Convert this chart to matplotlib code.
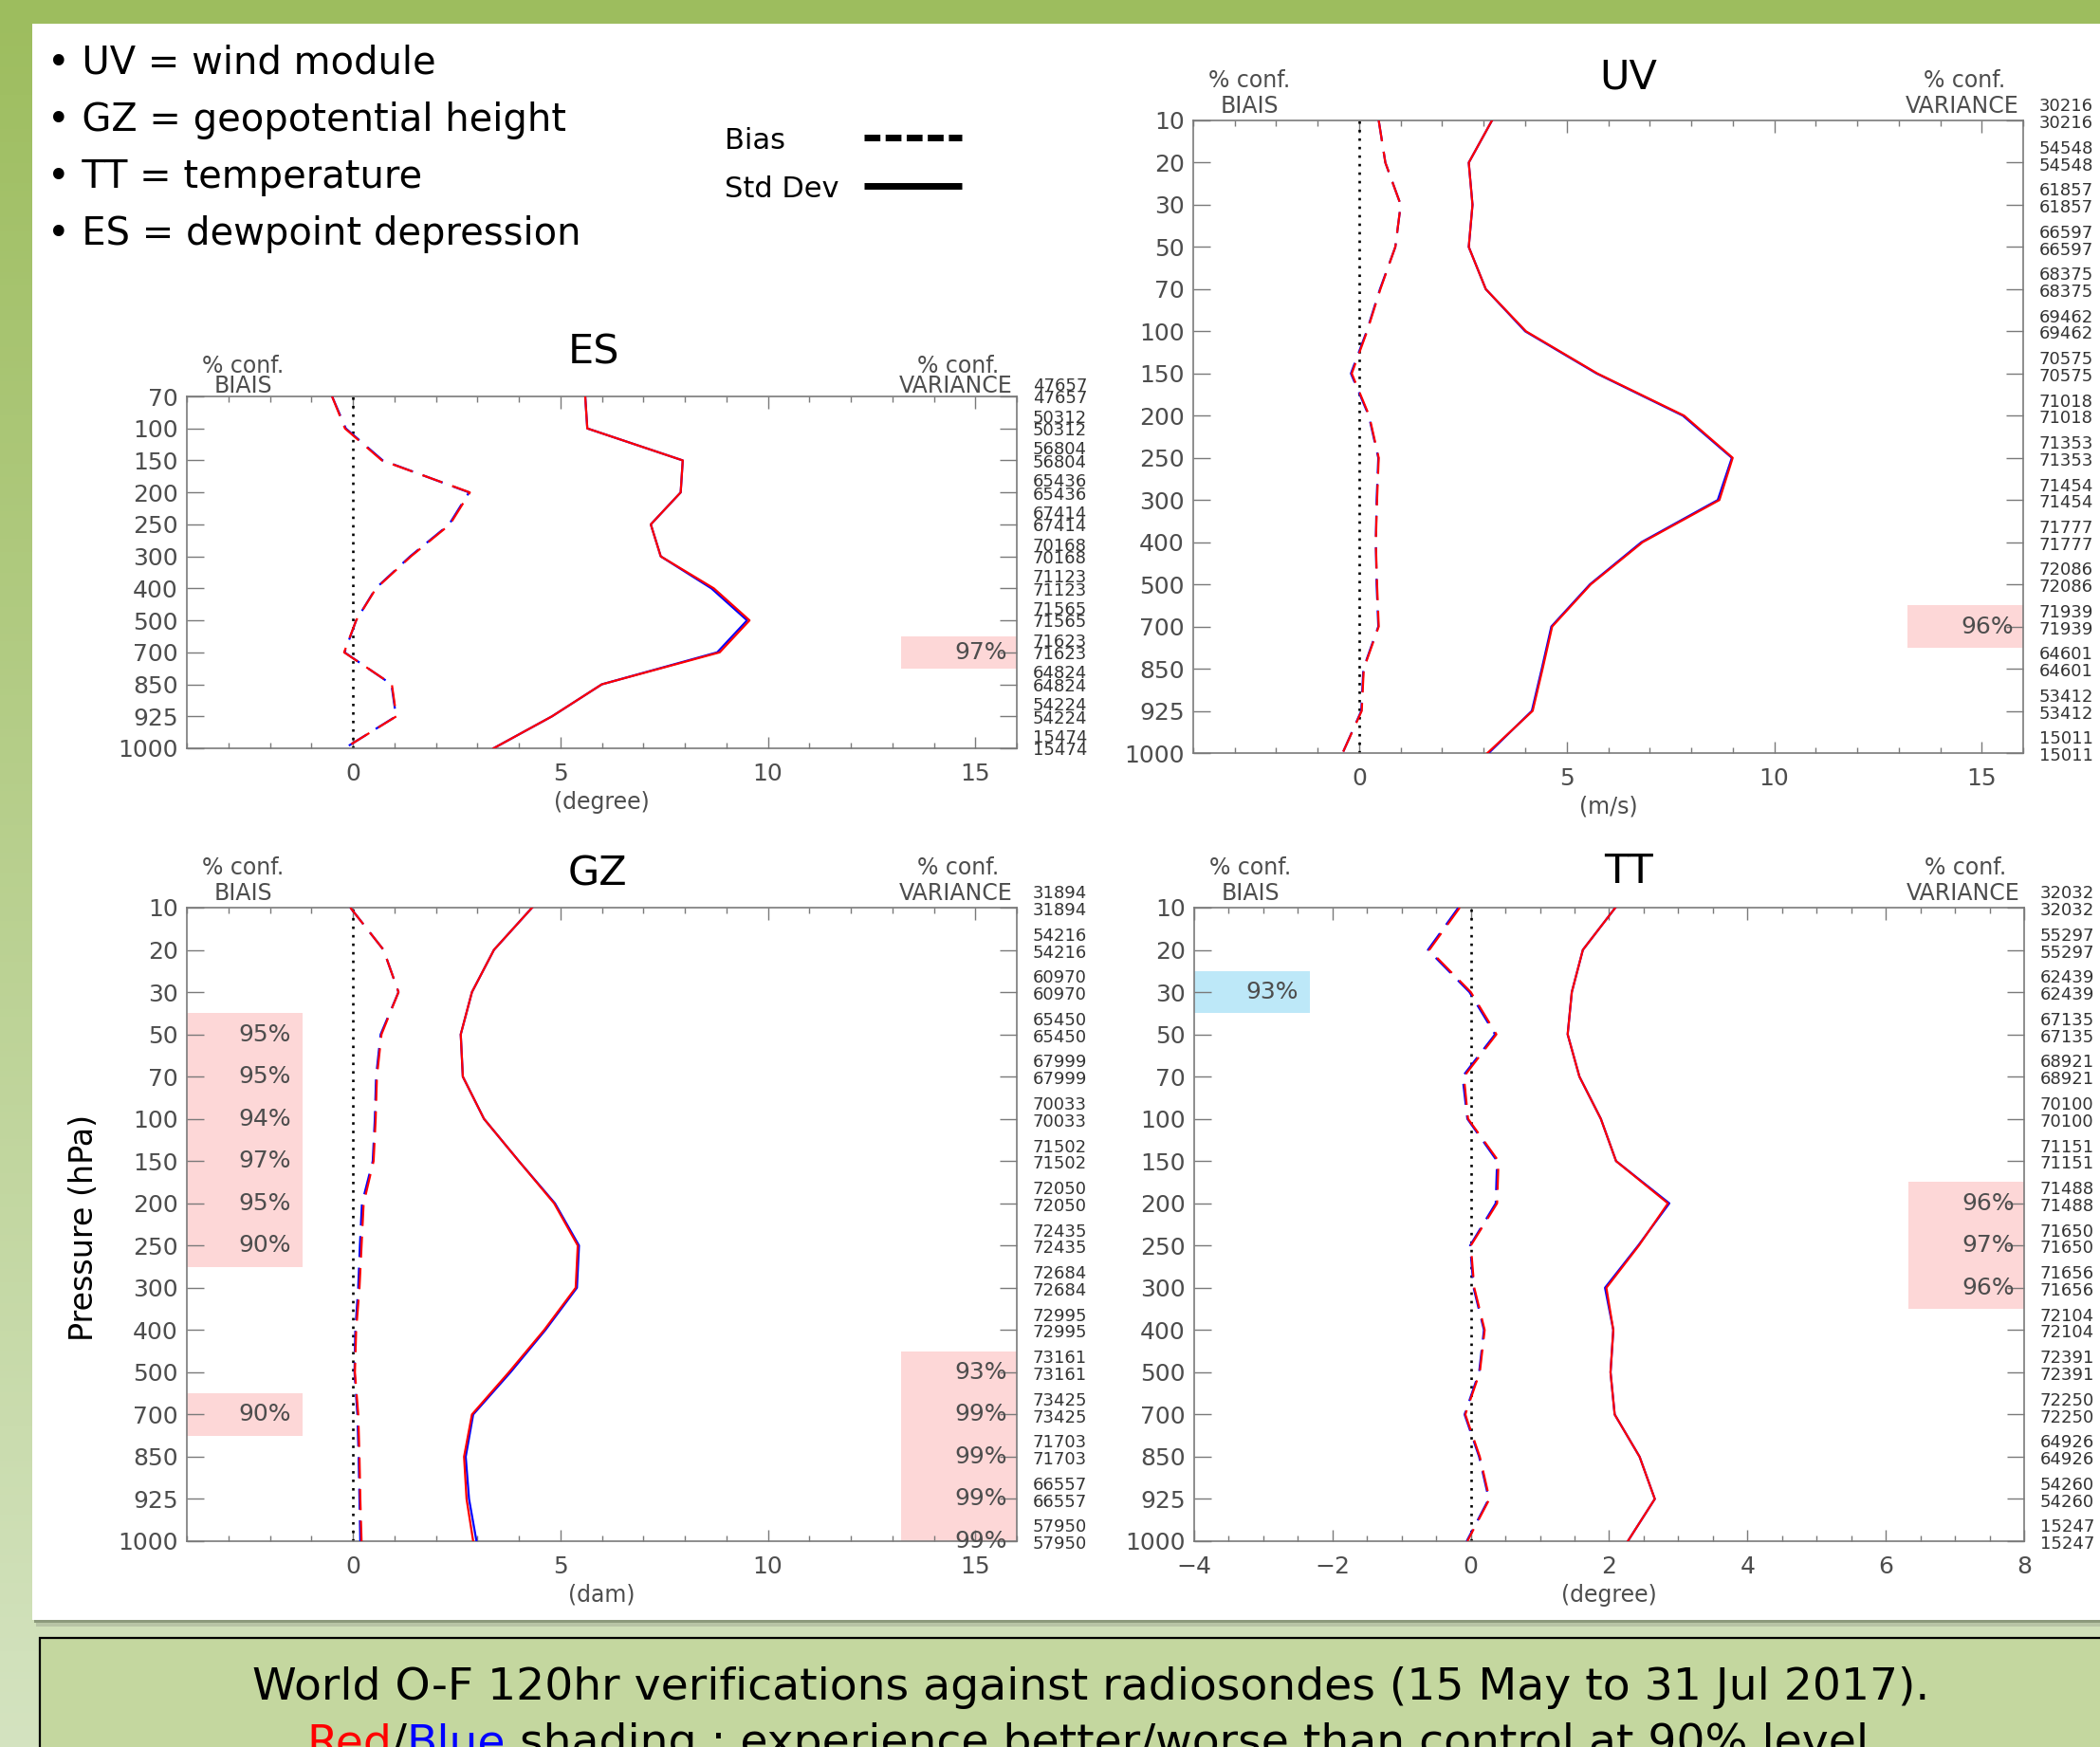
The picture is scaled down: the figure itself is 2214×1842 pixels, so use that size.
import numpy as np
import matplotlib
matplotlib.use('Agg')
import matplotlib.pyplot as plt
from matplotlib.patches import Rectangle
from matplotlib.ticker import MultipleLocator

W, H = 2214, 1842

# pressure levels (hPa)
es_levels = [70, 100, 150, 200, 250, 300, 400, 500, 700, 850, 925, 1000]
levels = [10, 20, 30, 50, 70, 100, 150, 200, 250, 300, 400, 500, 700, 850, 925, 1000]

# ES : dewpoint depression (degree)
es_std_red = [5.6, 5.65, 7.95, 7.9, 7.18, 7.42, 8.7, 9.56, 8.84, 6.0, 4.8, 3.39]
es_std_blue = [5.6, 5.65, 7.95, 7.9, 7.18, 7.42, 8.64, 9.5, 8.78, 6.0, 4.8, 3.39]
es_bias_red = [-0.5, -0.19, 0.7, 2.82, 2.34, 1.4, 0.56, 0.08, -0.21, 0.94, 1.05, -0.2]
es_bias_blue = [-0.5, -0.17, 0.72, 2.8, 2.32, 1.38, 0.55, 0.08, -0.2, 0.93, 1.04, -0.2]
es_count = [47657, 50312, 56804, 65436, 67414, 70168, 71123, 71565, 71623, 64824, 54224, 15474]

# UV : wind module (m/s)
uv_std_red = [3.2, 2.64, 2.73, 2.64, 3.05, 4.02, 5.74, 7.83, 9.0, 8.68, 6.83, 5.58, 4.65, 4.42, 4.18, 3.09]
uv_std_blue = [3.2, 2.64, 2.73, 2.64, 3.05, 4.0, 5.72, 7.8, 8.98, 8.64, 6.8, 5.56, 4.63, 4.4, 4.16, 3.12]
uv_bias_red = [0.47, 0.63, 1.0, 0.87, 0.51, 0.19, -0.18, 0.24, 0.47, 0.43, 0.4, 0.43, 0.47, 0.11, 0.06, -0.4]
uv_bias_blue = [0.47, 0.63, 1.0, 0.87, 0.5, 0.18, -0.2, 0.23, 0.46, 0.42, 0.4, 0.42, 0.46, 0.1, 0.05, -0.4]
uv_count = [30216, 54548, 61857, 66597, 68375, 69462, 70575, 71018, 71353, 71454, 71777, 72086, 71939, 64601, 53412, 15011]

# GZ : geopotential height (dam)
gz_std_red = [4.32, 3.4, 2.87, 2.6, 2.65, 3.16, 4.0, 4.85, 5.42, 5.37, 4.61, 3.76, 2.87, 2.68, 2.74, 2.9]
gz_std_blue = [4.32, 3.4, 2.87, 2.6, 2.65, 3.16, 4.0, 4.87, 5.45, 5.4, 4.64, 3.8, 2.9, 2.72, 2.8, 2.98]
gz_bias_red = [-0.06, 0.74, 1.1, 0.69, 0.58, 0.55, 0.5, 0.26, 0.21, 0.16, 0.08, 0.05, 0.13, 0.16, 0.18, 0.21]
gz_bias_blue = [-0.06, 0.74, 1.1, 0.67, 0.56, 0.53, 0.48, 0.22, 0.17, 0.13, 0.06, 0.04, 0.11, 0.14, 0.16, 0.18]
gz_count = [31894, 54216, 60970, 65450, 67999, 70033, 71502, 72050, 72435, 72684, 72995, 73161, 73425, 71703, 66557, 57950]

# TT : temperature (degree)
tt_std_red = [2.09, 1.62, 1.46, 1.4, 1.57, 1.88, 2.1, 2.85, 2.43, 1.96, 2.06, 2.02, 2.08, 2.44, 2.66, 2.27]
tt_std_blue = [2.09, 1.62, 1.46, 1.4, 1.57, 1.88, 2.1, 2.87, 2.42, 1.94, 2.06, 2.02, 2.08, 2.44, 2.66, 2.27]
tt_bias_red = [-0.16, -0.6, 0.0, 0.37, -0.1, -0.04, 0.4, 0.38, 0.0, 0.05, 0.2, 0.13, -0.08, 0.13, 0.27, -0.05]
tt_bias_blue = [-0.18, -0.62, -0.02, 0.35, -0.12, -0.05, 0.38, 0.36, -0.01, 0.04, 0.19, 0.12, -0.09, 0.12, 0.26, -0.06]
tt_count = [32032, 55297, 62439, 67135, 68921, 70100, 71151, 71488, 71650, 71656, 72104, 72391, 72250, 64926, 54260, 15247]

# significance shading (level, % confidence)
es_var_lev, es_var_conf = [700], [97]
uv_var_lev, uv_var_conf = [700], [96]
gz_bias_lev, gz_bias_conf = [50, 70, 100, 150, 200, 250, 700], [95, 95, 94, 97, 95, 90, 90]
gz_var_lev, gz_var_conf = [500, 700, 850, 925, 1000], [93, 99, 99, 99, 99]
tt_bias_lev, tt_bias_conf = [30], [93]
tt_var_lev, tt_var_conf = [200, 250, 300], [96, 97, 96]

bullets = ['• UV = wind module', '• GZ = geopotential height',
           '• TT = temperature', '• ES = dewpoint depression']

PINK = '#fdd7d7'
CYAN = '#bde8f8'
GREY = '#4d4d4d'
AXC = '#7a7a7a'
CAP_FS = 34

fig = plt.figure(figsize=(W / 100, H / 100), dpi=100)

# slide background, in pixel coordinates
bg = fig.add_axes([0, 0, 1, 1], zorder=-10)
top_c = np.array([157, 189, 94]) / 255
bot_c = np.array([212, 227, 192]) / 255
t = np.linspace(0, 1, 256)[:, None, None]
grad = top_c * (1 - t) + bot_c * t
bg.imshow(grad, extent=(0, W, H, 0), aspect='auto')
bg.set_xlim(0, W)
bg.set_ylim(H, 0)
bg.axis('off')
bg.add_patch(Rectangle((34, 25), W, 1683, fc='white', ec='none'))
bg.add_patch(Rectangle((36, 1708), W, 3, fc='#8c9a7c', ec='none'))
bg.add_patch(Rectangle((38, 1711), W, 4, fc='#b7c4a5', ec='none'))
bg.add_patch(Rectangle((42, 1727), W, 200, fc='#c4d79f', ec='black', lw=1.6))

for k, s in enumerate(bullets):
    bg.text(50, 78 + 60 * k, s, fontsize=28.8, va='baseline', ha='left', color='black')

# line-style key
bg.text(764, 157, 'Bias', fontsize=22, va='baseline', ha='left')
bg.text(764, 208, 'Std Dev', fontsize=22, va='baseline', ha='left')
bg.plot([911, 1014], [145, 145], color='black', lw=5, dashes=(2.4, 0.8), solid_capstyle='butt')
bg.plot([911, 1014], [196, 196], color='black', lw=5, solid_capstyle='butt')

bg.text(88, 1294, 'Pressure (hPa)', rotation=90, ha='center', va='center',
        fontsize=24, color='black')

bg.text(1150, 1792, 'World O-F 120hr verifications against radiosondes (15 May to 31 Jul 2017).',
        ha='center', va='baseline', fontsize=CAP_FS)
prev = bg.text(323, 1851, 'Red', ha='left', va='baseline', fontsize=CAP_FS, color='red')
for piece, col in [('/', 'black'), ('Blue', 'blue'),
                   (' shading : experience better/worse than control at 90% level', 'black')]:
    prev = bg.annotate(piece, xy=(1, 0), xycoords=prev, ha='left', va='bottom',
                       fontsize=CAP_FS, color=col)

titles = [('ES', 626, 383), ('UV', 1717, 93), ('GZ', 630, 933), ('TT', 1717, 931)]
for s, x, y in titles:
    bg.text(x, y, s, fontsize=31, ha='center', va='baseline', color='black')


def panel(rect, lev, std_r, std_b, bias_r, bias_b, counts, xlim, major, minor, xlabel):
    l, tp, r, b = rect
    ax = fig.add_axes([l / W, 1 - b / H, (r - l) / W, (b - tp) / H])
    y = np.arange(len(lev))
    ax.axvline(0, color='black', lw=1.9, ls=(0, (1, 2.4)), zorder=2)
    ax.plot(std_b, y, color='blue', lw=1.6, zorder=3)
    ax.plot(std_r, y, color='red', lw=1.6, zorder=3)
    ax.plot(bias_b, y, color='blue', lw=1.6, dashes=(10, 5), zorder=3)
    ax.plot(bias_r, y, color='red', lw=1.6, dashes=(10, 5), zorder=3)
    ax.set_xlim(*xlim)
    ax.set_ylim(len(lev) - 1, 0)
    ax.set_yticks(y)
    ax.set_yticklabels([str(v) for v in lev])
    ax.xaxis.set_major_locator(MultipleLocator(major))
    ax.xaxis.set_minor_locator(MultipleLocator(minor))
    ax.tick_params(axis='y', direction='in', length=13, width=1, color=AXC,
                   left=True, right=True, labelsize=18, labelcolor=GREY, pad=6.5)
    ax.tick_params(axis='x', which='major', direction='in', length=9, width=1, color=AXC,
                   top=True, bottom=True, labelsize=18, labelcolor=GREY, pad=11)
    ax.tick_params(axis='x', which='minor', direction='in', length=4.5, width=1, color=AXC,
                   top=True, bottom=True)
    for sp in ax.spines.values():
        sp.set_color(AXC)
        sp.set_linewidth(1.2)
    ax.set_xlabel(xlabel, fontsize=17, color=GREY, labelpad=4)
    tr = ax.get_yaxis_transform()
    for i, c in enumerate(counts):
        for dy in (-0.33, 0.07):
            ax.text(1.019, i + dy, str(c), transform=tr, ha='left', va='center',
                    fontsize=13, color='#333333', clip_on=False)
    for xf, s in [(0.068, '% conf.'), (0.929, '% conf.')]:
        ax.text(xf, -0.95, s, transform=tr, ha='center', va='center', fontsize=17, color=GREY)
    ax.text(0.068, -0.33, 'BIAIS', transform=tr, ha='center', va='center', fontsize=17, color=GREY)
    ax.text(0.927, -0.33, 'VARIANCE', transform=tr, ha='center', va='center', fontsize=17, color=GREY)
    return ax


def shade(ax, lev, sig_lev, sig_conf, side, color):
    tr = ax.get_yaxis_transform()
    x0, x1, xt = (0.0, 0.139, 0.1255) if side == 'left' else (0.8606, 1.0, 0.989)
    for lv, pc in zip(sig_lev, sig_conf):
        i = lev.index(lv)
        ax.add_patch(Rectangle((x0, i - 0.5), x1 - x0, 1.0, transform=tr,
                               fc=color, ec='none', zorder=0.5))
        ax.text(xt, i, f'{pc}%', transform=tr, ha='right', va='center',
                fontsize=18, color=GREY, zorder=4)


es = panel((197, 418, 1072, 789), es_levels, es_std_red, es_std_blue, es_bias_red, es_bias_blue,
           es_count, (-4, 16), 5, 1, '(degree)')
shade(es, es_levels, es_var_lev, es_var_conf, 'right', PINK)

uv = panel((1258, 127, 2133, 794), levels, uv_std_red, uv_std_blue, uv_bias_red, uv_bias_blue,
           uv_count, (-4, 16), 5, 1, '(m/s)')
shade(uv, levels, uv_var_lev, uv_var_conf, 'right', PINK)

gz = panel((197, 957, 1072, 1625), levels, gz_std_red, gz_std_blue, gz_bias_red, gz_bias_blue,
           gz_count, (-4, 16), 5, 1, '(dam)')
shade(gz, levels, gz_bias_lev, gz_bias_conf, 'left', PINK)
shade(gz, levels, gz_var_lev, gz_var_conf, 'right', PINK)

tt = panel((1259, 957, 2134, 1625), levels, tt_std_red, tt_std_blue, tt_bias_red, tt_bias_blue,
           tt_count, (-4, 8), 2, 0.5, '(degree)')
shade(tt, levels, tt_bias_lev, tt_bias_conf, 'left', CYAN)
shade(tt, levels, tt_var_lev, tt_var_conf, 'right', PINK)

fig.savefig('out.png', dpi=100)
